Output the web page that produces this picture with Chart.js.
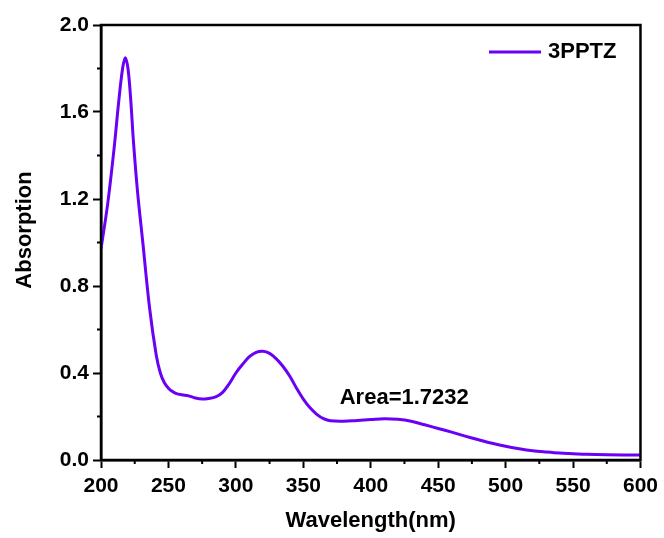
<!DOCTYPE html>
<html>
<head>
<meta charset="utf-8">
<script src="https://cdn.jsdelivr.net/npm/chart.js@4.4.0/dist/chart.umd.min.js"></script>
<style>
  html, body { margin: 0; padding: 0; background: #fff; }
  #wrap { width: 664px; height: 538px; }
</style>
</head>
<body>
<div id="wrap"><canvas id="chart" width="664" height="538"></canvas></div>
<script>
// spectrum
const wavelength = [200, 205, 210, 213, 216, 218, 220, 222, 224, 227, 231, 236, 241, 244, 247, 250, 253, 256, 260, 265, 270, 275, 280, 285, 290, 295, 300, 305, 310, 315, 320, 325, 330, 335, 340, 345, 350, 355, 360, 365, 370, 380, 390, 400, 410, 420, 430, 440, 450, 460, 470, 480, 490, 500, 510, 520, 530, 540, 550, 560, 575, 600];
const absorption = [0.97, 1.18, 1.45, 1.64, 1.80, 1.85, 1.80, 1.66, 1.47, 1.24, 1.00, 0.70, 0.48, 0.40, 0.355, 0.33, 0.315, 0.305, 0.30, 0.295, 0.285, 0.28, 0.283, 0.29, 0.31, 0.35, 0.40, 0.44, 0.475, 0.495, 0.50, 0.49, 0.465, 0.43, 0.385, 0.33, 0.28, 0.24, 0.21, 0.19, 0.18, 0.178, 0.182, 0.186, 0.19, 0.187, 0.178, 0.162, 0.145, 0.128, 0.11, 0.093, 0.077, 0.063, 0.052, 0.043, 0.037, 0.032, 0.029, 0.026, 0.024, 0.023];
const seriesName = "3PPTZ";
const xTicks = [200, 250, 300, 350, 400, 450, 500, 550, 600];
const yTicks = [0.0, 0.4, 0.8, 1.2, 1.6, 2.0];
const yTitle = "Absorption";
const areaNote = { text: "Area=1.7232", x: 377, y: 0.286 };

const lineColor = "#6a00f5";
const fontFam = "'Liberation Sans', Arial, sans-serif";

const points = wavelength.map((w, i) => ({ x: w, y: absorption[i] }));

// frame, minor ticks, legend, y title and note
const extras = {
  id: "extras",
  afterDraw(chart) {
    const ctx = chart.ctx;
    const a = chart.chartArea;
    const xs = chart.scales.x, ys = chart.scales.y;
    ctx.save();
    ctx.strokeStyle = "#000";
    ctx.lineWidth = 2.5;
    ctx.strokeRect(a.left, a.top, a.right - a.left, a.bottom - a.top);

    ctx.lineWidth = 2;
    for (let i = 0; i < xTicks.length - 1; i++) {
      const px = xs.getPixelForValue((xTicks[i] + xTicks[i + 1]) / 2);
      ctx.beginPath(); ctx.moveTo(px, a.bottom); ctx.lineTo(px, a.bottom + 4); ctx.stroke();
    }
    for (let i = 0; i < yTicks.length - 1; i++) {
      const py = ys.getPixelForValue((yTicks[i] + yTicks[i + 1]) / 2);
      ctx.beginPath(); ctx.moveTo(a.left, py); ctx.lineTo(a.left - 4, py); ctx.stroke();
    }

    // legend
    ctx.strokeStyle = lineColor;
    ctx.lineWidth = 3;
    ctx.beginPath(); ctx.moveTo(489, 52); ctx.lineTo(541, 52); ctx.stroke();
    ctx.fillStyle = "#000";
    ctx.font = "bold 22px " + fontFam;
    ctx.textBaseline = "middle";
    ctx.textAlign = "left";
    ctx.fillText(seriesName, 548, 52);

    // note
    ctx.fillText(areaNote.text, xs.getPixelForValue(areaNote.x), ys.getPixelForValue(areaNote.y));

    // y title
    ctx.translate(25, 230);
    ctx.rotate(-Math.PI / 2);
    ctx.textAlign = "center";
    ctx.fillText(yTitle, 0, 0);
    ctx.restore();
  }
};

new Chart(document.getElementById("chart"), {
  type: "scatter",
  data: {
    datasets: [{
      label: seriesName,
      data: points,
      showLine: true,
      borderColor: lineColor,
      borderWidth: 3,
      pointRadius: 0,
      tension: 0.35
    }]
  },
  options: {
    responsive: false,
    animation: false,
    layout: { padding: { left: 0, right: 23, top: 25, bottom: 0 } },
    plugins: { legend: { display: false }, tooltip: { enabled: false } },
    scales: {
      x: {
        type: "linear",
        min: 200, max: 600,
        afterFit(s) { s.height = 78; },
        afterBuildTicks(s) { s.ticks = xTicks.map(v => ({ value: v })); },
        grid: { drawOnChartArea: false, drawTicks: true, tickLength: 8, tickWidth: 2, tickColor: "#000" },
        border: { display: true, color: "#000", width: 2.5 },
        ticks: { color: "#000", padding: 6, font: { family: fontFam, size: 21, weight: "bold" }, maxRotation: 0 },
        title: { display: true, text: "Wavelength(nm)", color: "#000", padding: { top: 7 }, font: { family: fontFam, size: 22, weight: "bold" } }
      },
      y: {
        type: "linear",
        min: 0, max: 2.0,
        afterFit(s) { s.width = 101; },
        afterBuildTicks(s) { s.ticks = yTicks.map(v => ({ value: v })); },
        grid: { drawOnChartArea: false, drawTicks: true, tickLength: 8, tickWidth: 2, tickColor: "#000" },
        border: { display: true, color: "#000", width: 2.5 },
        ticks: { color: "#000", padding: 4, font: { family: fontFam, size: 21, weight: "bold" }, callback: v => v.toFixed(1) },
        title: { display: false }
      }
    }
  },
  plugins: [extras]
});
</script>
</body>
</html>
